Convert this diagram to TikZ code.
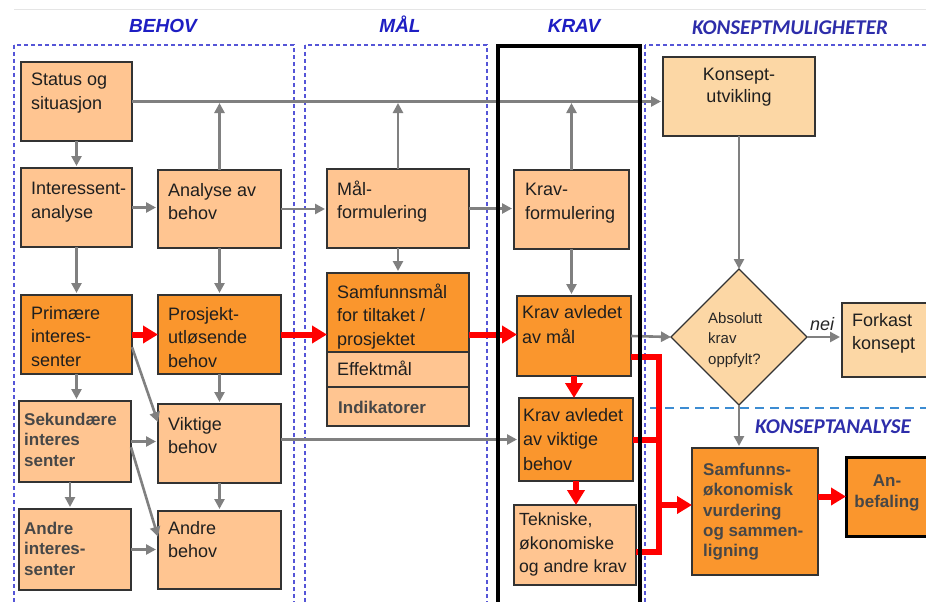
\documentclass[tikz,border=0pt]{standalone}
\usepackage{fontspec}
\setmainfont{Liberation Sans}
\newfontfamily\calib{Carlito}
\usetikzlibrary{arrows.meta,shapes.geometric,calc}
\definecolor{lightor}{RGB}{255,197,145}
\definecolor{darkor}{RGB}{250,150,45}
\definecolor{konsor}{RGB}{252,215,165}
\definecolor{arrgray}{RGB}{128,128,128}
\definecolor{ttlblue}{RGB}{30,30,195}
\definecolor{ttlblue2}{RGB}{45,45,170}
\definecolor{frblue}{RGB}{85,85,215}
\definecolor{lnblue}{RGB}{60,140,210}
\definecolor{arrred}{RGB}{255,0,0}
\tikzset{
 box/.style={draw=black!80, line width=1.1pt, outer sep=0pt, inner sep=0pt},
 boxL/.style={box, fill=lightor},
 boxD/.style={box, fill=darkor},
 boxK/.style={box, fill=konsor},
 tx/.style={anchor=north west, align=left, inner sep=0pt, font=\fontsize{18}{23.5}\selectfont, text=black!88},
 txt/.style={tx, xshift=10pt, yshift=-12pt},
 btx/.style={tx, font=\fontsize{17}{20.3}\selectfont\bfseries, text=black!72},
 garr/.style={draw=arrgray, line width=2.6pt, -{Triangle[length=10pt,width=10pt]}},
 rarr/.style={draw=arrred, line width=6pt, -{Triangle[length=15pt,width=17pt]}},
 rline/.style={draw=arrred, line width=6pt},
 bframe/.style={draw=frblue, line width=1.3pt, dash pattern=on 4pt off 3pt},
 ttl/.style={anchor=base, inner sep=0pt, font=\fontsize{19}{22}\selectfont\bfseries\itshape, text=ttlblue},
 ttl2/.style={ttl, font=\calib\fontsize{21}{24}\selectfont\bfseries\itshape, text=ttlblue2},
}
% #1 text style, #2 name, #3 x1, #4 y1, #5 x2, #6 y2, #7 box style, #8 text
\newcommand\bx[8][txt]{%
 \node[#7, anchor=north west, minimum width={#5-#3}, minimum height={#6-#4}] (#2) at (#3,#4) {};
 \node[#1] (#2t) at (#2.north west) {#8};}
\begin{document}
\begin{tikzpicture}[x=1pt,y=-1pt]
\useasboundingbox (0,0) rectangle (926,602);
\fill[white] (0,0) rectangle (926,602);
\draw[black!10, line width=0.8pt] (14,9) -- (926,9);
% frames
\draw[bframe] (14,45) rectangle (294,640);
\draw[bframe] (305,45) rectangle (487,640);
\draw[bframe] (645,45) rectangle (950,640);
\draw[lnblue, line width=1.8pt, dash pattern=on 9pt off 6pt] (650,408) -- (926,408);
% titles
\node[ttl] (tbehov) at (163,33) {BEHOV};
\node[ttl] (tmal) at (400,33) {MÅL};
\node[ttl] (tkrav) at (574,33) {KRAV};
\node[ttl2] (tkons) at (790,35) {KONSEPTMULIGHETER};
\node[ttl2] (tkana) at (833,433) {KONSEPTANALYSE};
% BEHOV boxes
\bx[tx,xshift=10pt,yshift=-11pt]{status}{21}{62}{132}{141}{boxL}{Status og\\situasjon}
\bx[tx,xshift=10pt,yshift=-14pt]{inter}{21}{168}{132}{247}{boxL}{Interessent-\\analyse}
\bx[tx,xshift=10pt,yshift=-13pt]{analyse}{158}{170}{281}{248}{boxL}{Analyse av\\behov}
\bx[tx,xshift=10pt,yshift=-11pt]{prim}{21}{295}{132}{374}{boxD}{Primære\\interes-\\senter}
\bx[tx,xshift=10pt,yshift=-12pt]{prosj}{158}{295}{281}{374}{boxD}{Prosjekt-\\utløsende\\behov}
\bx[btx,xshift=5pt,yshift=-12pt]{sek}{19}{401}{131}{482}{boxL}{Sekundære\\interes\\senter}
\bx[tx,xshift=10pt,yshift=-13pt]{vikt}{158}{404}{281}{483}{boxL}{Viktige\\behov}
\bx[btx,xshift=5pt,yshift=-13pt]{andreI}{19}{509}{131}{590}{boxL}{Andre\\interes-\\senter}
\bx[tx,xshift=10pt,yshift=-10pt]{andreB}{158}{511}{281}{589}{boxL}{Andre\\behov}
% MAL boxes
\bx[tx,xshift=10pt,yshift=-13pt]{malf}{327}{169}{469}{248}{boxL}{M\smash{å}l-\\formulering}
\bx[tx,xshift=10pt,yshift=-12pt]{samf}{327}{273}{469}{352}{boxD}{Samfunnsm\smash{å}l\\for tiltaket /\\prosjektet}
\bx[tx,xshift=10pt,yshift=-10pt]{eff}{327}{352}{469}{387}{boxL}{Effektm\smash{å}l}
\bx[btx,xshift=11pt,yshift=-14pt]{ind}{327}{387}{469}{426}{boxL}{Indikatorer}
% KRAV boxes
\bx[tx,xshift=11pt,yshift=-13pt]{kravf}{514}{170}{629}{249}{boxL}{Krav-\\formulering}
\bx[tx,xshift=5pt,yshift=-9pt,font=\fontsize{18}{25.5}\selectfont]{kravm}{517}{296}{631}{376}{boxD}{Krav avledet\\av m\smash{å}l}
\bx[tx,xshift=4pt,yshift=-10pt,font=\fontsize{18}{24.5}\selectfont]{kravv}{519}{398}{633}{481}{boxD}{Krav avledet\\av viktige\\behov}
\bx[tx,xshift=5pt,yshift=-8pt,font=\fontsize{17.6}{23.5}\selectfont]{tekn}{514}{505}{636}{585}{boxL}{Tekniske,\\økonomiske\\og andre krav}
% KONSEPT
\node[boxK, anchor=north west, minimum width=152pt, minimum height=79pt] (kons) at (663,57) {};
\node[tx, anchor=north, align=center, font=\fontsize{18}{22}\selectfont, yshift=-11pt] (konst) at (kons.north) {Konsept-\\utvikling};
\node[boxK, diamond, minimum width=136pt, minimum height=136pt, inner sep=0pt] (dia) at (739,337) {};
\node[tx, font=\fontsize{15}{20.5}\selectfont, text=black!85] (diat) at (708,312) {Absolutt\\krav\\oppfylt?};
\bx[tx,xshift=10pt,yshift=-10pt]{fork}{842}{303}{932}{377}{boxK}{Forkast\\konsept}
\bx[btx,xshift=11pt,yshift=-15pt]{samo}{692}{448}{818}{575}{boxD}{Samfunns-\\økonomisk\\vurdering\\og sammen-\\ligning}
\node[boxD, draw=black, line width=3pt, anchor=north west, minimum width=82pt, minimum height=79pt] (anbef) at (846,457) {};
\node[btx, anchor=north, align=center, yshift=-18pt] (anbeft) at (anbef.north) {An-\\befaling};
\node[anchor=base, inner sep=0pt, font=\fontsize{18}{22}\selectfont\itshape, text=black!85] (nei) at (822,330) {nei};
% gray connectors
\coordinate (hl) at (0,103);
\draw[garr, shorten >=2pt] (status.east) -- (status.east -| kons.west);
\draw[garr] (analyse.north) -- (analyse.north |- hl);
\draw[garr] (malf.north) -- (malf.north |- hl);
\draw[garr] (kravf.north) -- (kravf.north |- hl);
\draw[garr, shorten >=2pt] (status.south) -- (status.south |- inter.north);
\draw[garr, shorten >=2pt] (inter.east) -- (inter.east -| analyse.west);
\draw[garr, shorten >=2pt] (analyse.east) -- (analyse.east -| malf.west);
\draw[garr, shorten >=2pt] (malf.east) -- (malf.east -| kravf.west);
\draw[garr, shorten >=2pt] (inter.south) -- (inter.south |- prim.north);
\draw[garr, shorten >=2pt] (analyse.south) -- (analyse.south |- prosj.north);
\draw[garr, shorten >=2pt] (malf.south) -- (malf.south |- samf.north);
\draw[garr, shorten >=2pt] (kravf.south) -- (kravf.south |- kravm.north);
\draw[garr] (kons.south) -- (dia.north);
\draw[garr, shorten >=2pt] (prim.south) -- (prim.south |- sek.north);
\draw[garr, shorten >=2pt] (prosj.south) -- (prosj.south |- vikt.north);
\draw[garr] ($(prim.north east)!0.66!(prim.south east)$) -- ($(vikt.north west)!0.23!(vikt.south west)$);
\draw[garr, shorten >=2pt] (sek.east) -- (sek.east -| vikt.west);
\draw[garr] ($(sek.north east)!0.57!(sek.south east)$) -- ($(andreB.north west)!0.33!(andreB.south west)$);
\draw[garr, shorten >=2pt] ([xshift=-5pt]sek.south) -- ([xshift=-5pt]sek.south |- andreI.north);
\draw[garr, shorten >=2pt] (vikt.south) -- (vikt.south |- andreB.north);
\draw[garr, shorten >=2pt] (andreI.east) -- (andreI.east -| andreB.west);
\draw[garr, shorten >=2pt] (vikt.east |- kravv.west) -- (kravv.west);
\draw[garr] (kravm.east) -- (dia.west);
\draw[garr, shorten >=2pt] (dia.east) -- (dia.east -| fork.west);
\draw[garr, shorten >=2pt] (dia.south) -- (dia.south |- samo.north);
% red connectors
\draw[rarr] (prim.east) -- (prim.east -| prosj.west);
\draw[rarr] (prosj.east) -- (prosj.east -| samf.west);
\draw[rarr] (samf.east |- prim.east) -- (kravm.west |- prim.east);
\draw[rarr] (kravm.south) -- (kravm.south |- kravv.north);
\draw[rarr] (kravv.south) -- (kravv.south |- tekn.north);
\coordinate (b1) at (659,357);
\coordinate (b2) at (659,505);
\coordinate (b3) at (659,552);
\draw[rline, line join=miter] (kravm.east |- b1) -- (b1) -- (b3) -- (tekn.east |- b3);
\draw[rline] (kravv.east) -- (kravv.east -| b1);
\draw[rarr] (b2) -- (samo.west |- b2);
\draw[rarr] (samo.east |- anbef.west) -- (anbef.west);
% KRAV frame
\draw[black, line width=3.8pt] (498,46) rectangle (640,650);
\end{tikzpicture}
\end{document}
